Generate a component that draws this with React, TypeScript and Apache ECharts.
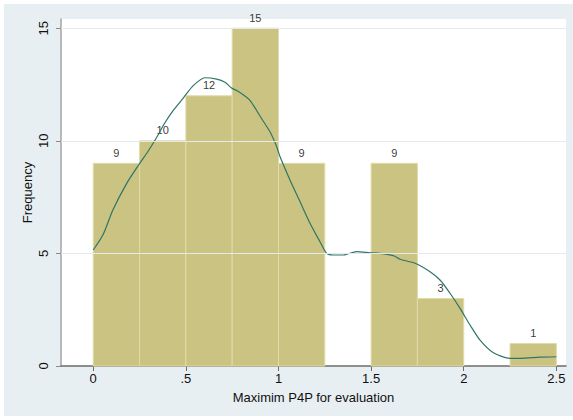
import React, { useEffect, useRef } from "react";
import * as echarts from "echarts";

// Histogram bins (width .25) and their frequencies
const binStarts = [0, 0.25, 0.5, 0.75, 1, 1.25, 1.5, 1.75, 2, 2.25];
const binWidth = 0.25;
const frequencies = [9, 10, 12, 15, 9, 0, 9, 3, 0, 1];

// Kernel density curve, scaled to frequency units
const densityX = [
  0, 0.054, 0.106, 0.18, 0.247, 0.297, 0.342, 0.387, 0.432, 0.486, 0.54, 0.603,
  0.666, 0.711, 0.747, 0.792, 0.846, 0.9, 0.954, 0.99, 1.008, 1.062, 1.116,
  1.17, 1.224, 1.26, 1.296, 1.35, 1.422, 1.494, 1.548, 1.62, 1.656, 1.737,
  1.818, 1.872, 1.926, 1.98, 2.034, 2.088, 2.16, 2.25, 2.304, 2.412, 2.5,
];
const densityY = [
  5.15, 5.85, 6.93, 8.1, 8.95, 9.55, 10.15, 10.8, 11.35, 11.9, 12.45, 12.8,
  12.74, 12.6, 12.35, 12.15, 11.8, 11.1, 10.4, 9.75, 9.3, 8.26, 7.3, 6.34,
  5.52, 5.0, 4.93, 4.93, 5.08, 5.03, 5.0, 4.9, 4.74, 4.56, 4.19, 3.82, 3.23,
  2.56, 1.82, 1.15, 0.59, 0.34, 0.34, 0.39, 0.41,
];

// Axis ticks
const xTickValues = [0, 0.5, 1, 1.5, 2, 2.5];
const xTickLabels = ["0", ".5", "1", "1.5", "2", "2.5"];
const yTickValues = [0, 5, 10, 15];
const yGridValues = [5, 10, 15];

const FONT = "Liberation Sans, Arial, sans-serif";

export default function App() {
  const ref = useRef<HTMLDivElement>(null);

  useEffect(() => {
    if (!ref.current) return;
    const chart = echarts.init(ref.current, null, { renderer: "svg" });

    const bars = binStarts
      .map((s, i) => [s, s + binWidth, frequencies[i]])
      .filter((d) => d[2] > 0);
    const barLabels = bars.map((d) => [(d[0] + d[1]) / 2, d[2]]);
    const density = densityX.map((x, i) => [x, densityY[i]]);

    const labelMap: Record<string, string> = {};
    xTickValues.forEach((v, i) => (labelMap[String(v)] = xTickLabels[i]));

    chart.setOption({
      animation: false,
      backgroundColor: "#ffffff",
      graphic: [
        {
          type: "rect",
          z: -100,
          shape: { x: 4, y: 4, width: 569, height: 412 },
          style: { fill: "#e8eff2" },
          silent: true,
        },
      ],
      grid: {
        left: 61,
        top: 19,
        width: 505,
        height: 347,
        show: true,
        backgroundColor: "#ffffff",
        borderWidth: 0,
      },
      xAxis: {
        type: "value",
        min: -0.174,
        max: 2.552,
        name: "Maximim P4P for evaluation",
        nameLocation: "middle",
        nameGap: 25,
        nameTextStyle: { fontFamily: FONT, fontSize: 13, color: "#111" },
        axisLine: { show: true, onZero: false, lineStyle: { color: "#6b6b6b", width: 1.5 } },
        axisTick: {
          show: true,
          length: 5,
          customValues: xTickValues,
          lineStyle: { color: "#6b6b6b" },
        },
        axisLabel: {
          customValues: xTickValues,
          fontFamily: FONT,
          fontSize: 13,
          color: "#111",
          margin: 6,
          formatter: (v: number) => labelMap[String(v)] ?? "",
        },
        splitLine: { show: false },
      },
      yAxis: {
        type: "value",
        min: 0,
        max: 15.41,
        name: "Frequency",
        nameLocation: "middle",
        nameGap: 27,
        nameMoveOverlap: false,
        nameTextStyle: { fontFamily: FONT, fontSize: 13, color: "#111" },
        axisLine: { show: true, onZero: false, lineStyle: { color: "#a3a3a3", width: 1.5 } },
        axisTick: {
          show: true,
          length: 5,
          customValues: yTickValues,
          lineStyle: { color: "#8a8a8a" },
        },
        axisLabel: {
          customValues: yTickValues,
          rotate: 90,
          fontFamily: FONT,
          fontSize: 13,
          color: "#111",
          margin: 11,
        },
        splitLine: { show: false },
      },
      series: [
        {
          // horizontal grid lines behind the bars
          type: "line",
          data: [],
          z: 1,
          silent: true,
          markLine: {
            silent: true,
            symbol: "none",
            label: { show: false },
            lineStyle: { color: "#e3eaee", width: 1, type: "solid" },
            data: yGridValues.map((v) => ({ yAxis: v })),
          },
        },
        {
          type: "custom",
          z: 2,
          data: bars,
          encode: { x: [0, 1], y: 2 },
          renderItem: (params: any, api: any) => {
            const p0 = api.coord([api.value(0), api.value(2)]);
            const p1 = api.coord([api.value(1), 0]);
            return {
              type: "rect",
              shape: { x: p0[0], y: p0[1], width: p1[0] - p0[0], height: p1[1] - p0[1] },
              style: { fill: "#cbc382", stroke: "#e0dba9", lineWidth: 1 },
            };
          },
        },
        {
          type: "scatter",
          z: 3,
          data: barLabels,
          symbolSize: 0,
          silent: true,
          label: {
            show: true,
            position: "top",
            distance: 5,
            fontFamily: FONT,
            fontSize: 11,
            color: "#000000",
            formatter: (p: any) => String(p.value[1]),
          },
        },
        {
          type: "line",
          z: 4,
          data: density,
          showSymbol: false,
          symbol: "none",
          smooth: 0.25,
          silent: true,
          lineStyle: { color: "#2f7568", width: 1.2 },
        },
      ],
    });

    return () => chart.dispose();
  }, []);

  return (
    <div
      ref={ref}
      style={{ position: "fixed", left: 0, top: 0, width: 573, height: 420 }}
    />
  );
}
